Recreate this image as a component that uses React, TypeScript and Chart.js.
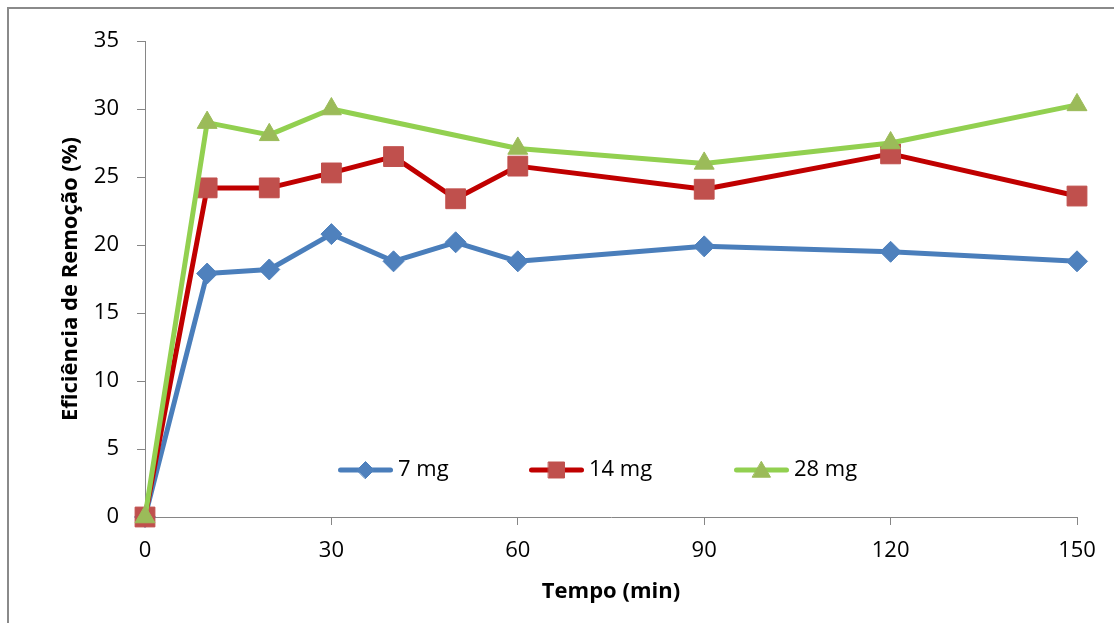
import React, { useEffect, useRef } from 'react';
import { Chart, registerables } from 'chart.js';
import { drawPoint } from 'chart.js/helpers';

Chart.register(...registerables);

// ---- data ----
const timeMin = [0, 10, 20, 30, 40, 50, 60, 90, 120, 150];
const eff7mg = [0, 17.9, 18.2, 20.8, 18.8, 20.2, 18.8, 19.9, 19.5, 18.8];
const eff14mg = [0, 24.2, 24.2, 25.3, 26.5, 23.4, 25.8, 24.1, 26.7, 23.6];
const eff28mg: (number | null)[] = [0, 29.0, 28.1, 30.0, null, null, 27.1, 26.0, 27.5, 30.3];
const seriesLabels = ['7 mg', '14 mg', '28 mg'];
const xTickValues = [0, 30, 60, 90, 120, 150];
const yTickValues = [0, 5, 10, 15, 20, 25, 30, 35];
const xTitle = 'Tempo (min)';
const yTitle = 'Eficiência de Remoção (%)';

const FONT = "'Open Sans', sans-serif";
const AXIS_GRAY = '#868686';

const styles = [
  { line: '#4A7EBB', marker: '#4F81BD', pointStyle: 'rectRot', radius: 10.5, legendRadius: 8.5 },
  { line: '#C00000', marker: '#C0504D', pointStyle: 'rect', radius: 14, legendRadius: 11.3 },
  { line: '#92D050', marker: '#9BBB59', pointStyle: 'triangle', radius: 11.5, legendRadius: 10.4 },
];

const legendItemStarts = [338, 529, 734]; // layout positions of legend items (px)
const legendY = 470;
const legendLineLen = 55;
const legendTextGap = 5;

const insideLegend = {
  id: 'insideLegend',
  afterDraw(chart: any) {
    const ctx = chart.ctx;
    ctx.save();
    chart.data.datasets.forEach((ds: any, i: number) => {
      const st = styles[i];
      const x0 = legendItemStarts[i];
      ctx.strokeStyle = st.line;
      ctx.lineWidth = 5;
      ctx.lineCap = 'round';
      ctx.beginPath();
      ctx.moveTo(x0 + 2.5, legendY);
      ctx.lineTo(x0 + legendLineLen - 2.5, legendY);
      ctx.stroke();
      ctx.fillStyle = st.marker;
      ctx.strokeStyle = st.marker;
      ctx.lineWidth = 1;
      drawPoint(ctx, { pointStyle: st.pointStyle as any, radius: st.legendRadius, rotation: 0, borderWidth: 1 }, x0 + legendLineLen / 2, legendY + (st.pointStyle === 'triangle' ? 2 : 0));
      ctx.fillStyle = '#000';
      ctx.font = `22px ${FONT}`;
      ctx.textBaseline = 'middle';
      ctx.textAlign = 'left';
      ctx.fillText(ds.label, x0 + legendLineLen + legendTextGap, legendY);
    });
    ctx.restore();
  },
};

export default function App() {
  const canvasRef = useRef<HTMLCanvasElement | null>(null);

  useEffect(() => {
    if (!canvasRef.current) return;
    const seriesValues = [eff7mg, eff14mg, eff28mg];
    const chart = new Chart(canvasRef.current, {
      type: 'line',
      data: {
        labels: timeMin,
        datasets: seriesValues.map((vals, i) => ({
          label: seriesLabels[i],
          data: timeMin.map((t, j) => ({ x: t, y: vals[j] })),
          borderColor: styles[i].line,
          backgroundColor: styles[i].marker,
          borderWidth: 5,
          borderCapStyle: 'round',
          borderJoinStyle: 'round',
          tension: 0,
          spanGaps: true,
          pointStyle: styles[i].pointStyle as any,
          pointRadius: styles[i].radius,
          pointBackgroundColor: styles[i].marker,
          pointBorderColor: styles[i].marker,
          pointBorderWidth: 1,
          fill: false,
          clip: false as any,
          order: 3 - i,
        })),
      },
      options: {
        animation: false,
        responsive: false,
        maintainAspectRatio: false,
        layout: { padding: { left: 0, top: 41, right: 37, bottom: 0 } },
        plugins: {
          legend: { display: false },
          tooltip: { enabled: false },
        },
        font: { family: FONT } as any,
        scales: {
          x: {
            type: 'linear',
            min: 0,
            max: 150,
            afterBuildTicks: (scale: any) => {
              scale.ticks = xTickValues.map((v) => ({ value: v }));
            },
            afterFit: (scale: any) => {
              scale.height = 106;
            },
            grid: {
              drawOnChartArea: false,
              drawTicks: true,
              tickLength: 8,
              color: AXIS_GRAY,
            },
            border: { color: AXIS_GRAY, width: 1 },
            ticks: {
              color: '#000',
              padding: 13,
              maxRotation: 0,
              autoSkip: false,
              font: { family: FONT, size: 22 },
            },
            title: {
              display: true,
              text: xTitle,
              color: '#000',
              font: { family: FONT, size: 22, weight: 'bold' },
              padding: { top: 0, bottom: 18 },
            },
          },
          y: {
            type: 'linear',
            min: 0,
            max: 35,
            afterBuildTicks: (scale: any) => {
              scale.ticks = yTickValues.map((v) => ({ value: v }));
            },
            afterFit: (scale: any) => {
              scale.width = 145;
            },
            grid: {
              drawOnChartArea: false,
              drawTicks: true,
              tickLength: 8,
              color: AXIS_GRAY,
            },
            border: { color: AXIS_GRAY, width: 1 },
            ticks: {
              color: '#000',
              padding: 18,
              autoSkip: false,
              font: { family: FONT, size: 22 },
            },
            title: {
              display: true,
              text: yTitle,
              color: '#000',
              font: { family: FONT, size: 22, weight: 'bold' },
              padding: { top: 58, bottom: 0 },
            },
          },
        },
      },
      plugins: [insideLegend],
    });
    return () => chart.destroy();
  }, []);

  return (
    <div style={{ position: 'absolute', left: 0, top: 0, width: 1114, height: 623, overflow: 'hidden', background: '#fff' }}>
      <div
        style={{
          position: 'absolute',
          left: 7,
          top: 7,
          width: 1200,
          height: 700,
          border: '2px solid #8a8a8a',
          boxSizing: 'border-box',
        }}
      />
      <canvas ref={canvasRef} width={1114} height={623} style={{ position: 'absolute', left: 0, top: 0, width: 1114, height: 623 }} />
    </div>
  );
}
